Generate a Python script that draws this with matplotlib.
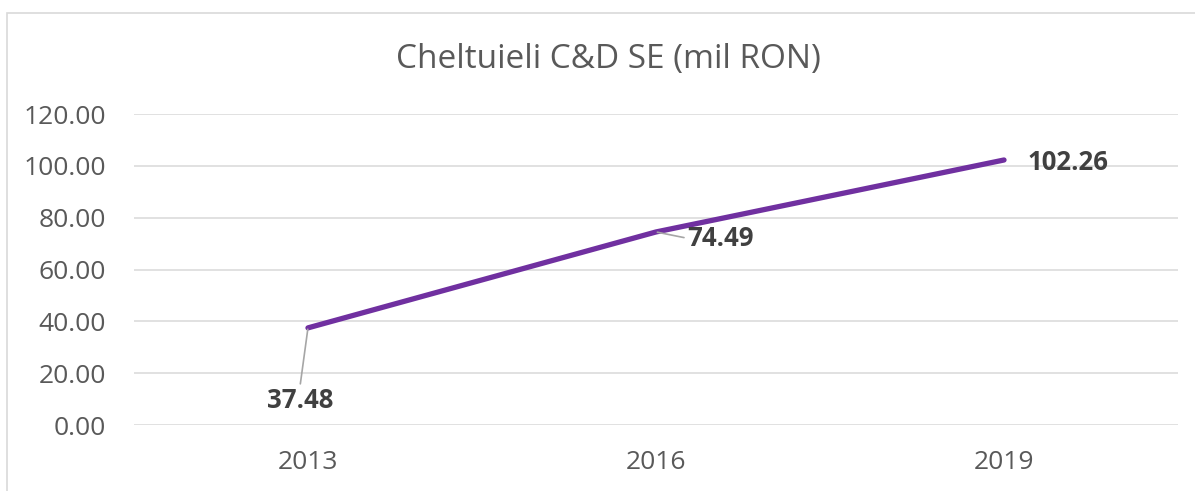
import matplotlib.pyplot as plt
from matplotlib.patches import Rectangle

# data
years = ["2013", "2016", "2019"]
values = [37.48, 74.49, 102.26]
y_ticks = [0, 20, 40, 60, 80, 100, 120]

plt.rcParams['font.family'] = ['Open Sans', 'DejaVu Sans']

fig = plt.figure(figsize=(11.95, 4.91), dpi=100)
ax = fig.add_axes([0.1121, 0.1344, 0.8737, 0.6334])

xs = list(range(len(years)))
ax.plot(xs, values, color='#7030A0', linewidth=3.8, solid_capstyle='round', zorder=3)

ax.set_xlim(-0.5, len(years) - 0.5)
ax.set_ylim(0, 120)
ax.set_yticks(y_ticks)
ax.set_yticklabels(["%.2f" % v for v in y_ticks])
ax.set_xticks(xs)
ax.set_xticklabels(years)
ax.tick_params(axis='both', length=0, labelsize=19, labelcolor='#595959')
ax.tick_params(axis='y', pad=20)
ax.tick_params(axis='x', pad=18)
ax.grid(axis='y', color='#D9D9D9', linewidth=1.1)
ax.set_axisbelow(True)
for s in ax.spines.values():
    s.set_visible(False)

# data labels (offsets in data units, leader lines like the original)
lead = dict(arrowstyle='-', color='#A6A6A6', linewidth=1.2, shrinkA=0, shrinkB=1)
ax.annotate("%.2f" % values[0], xy=(0, values[0]), xytext=(-0.023, 9.6),
            ha='center', va='center', fontsize=18.5, fontweight='bold', color='#404040',
            arrowprops=dict(lead, relpos=(0.5, 1.0)))
ax.annotate("%.2f" % values[1], xy=(1, values[1]), xytext=(1.184, 72.1),
            ha='center', va='center', fontsize=18.5, fontweight='bold', color='#404040',
            arrowprops=dict(lead, relpos=(0.0, 0.5)))
ax.annotate("%.2f" % values[2], xy=(2, values[2]), xytext=(2.184, 101.1),
            ha='center', va='center', fontsize=18.5, fontweight='bold', color='#404040')

fig.text(0.509, 0.878, "Cheltuieli C&D SE (mil RON)", ha='center', va='center',
         fontsize=24, color='#595959')

# chart frame
fig.patches.append(Rectangle((7 / 1195, -0.05), 1.2, 0.05 + (491 - 13) / 491,
                             transform=fig.transFigure, fill=False,
                             edgecolor='#D9D9D9', linewidth=1.2))

fig.savefig('out.png', dpi=100)
